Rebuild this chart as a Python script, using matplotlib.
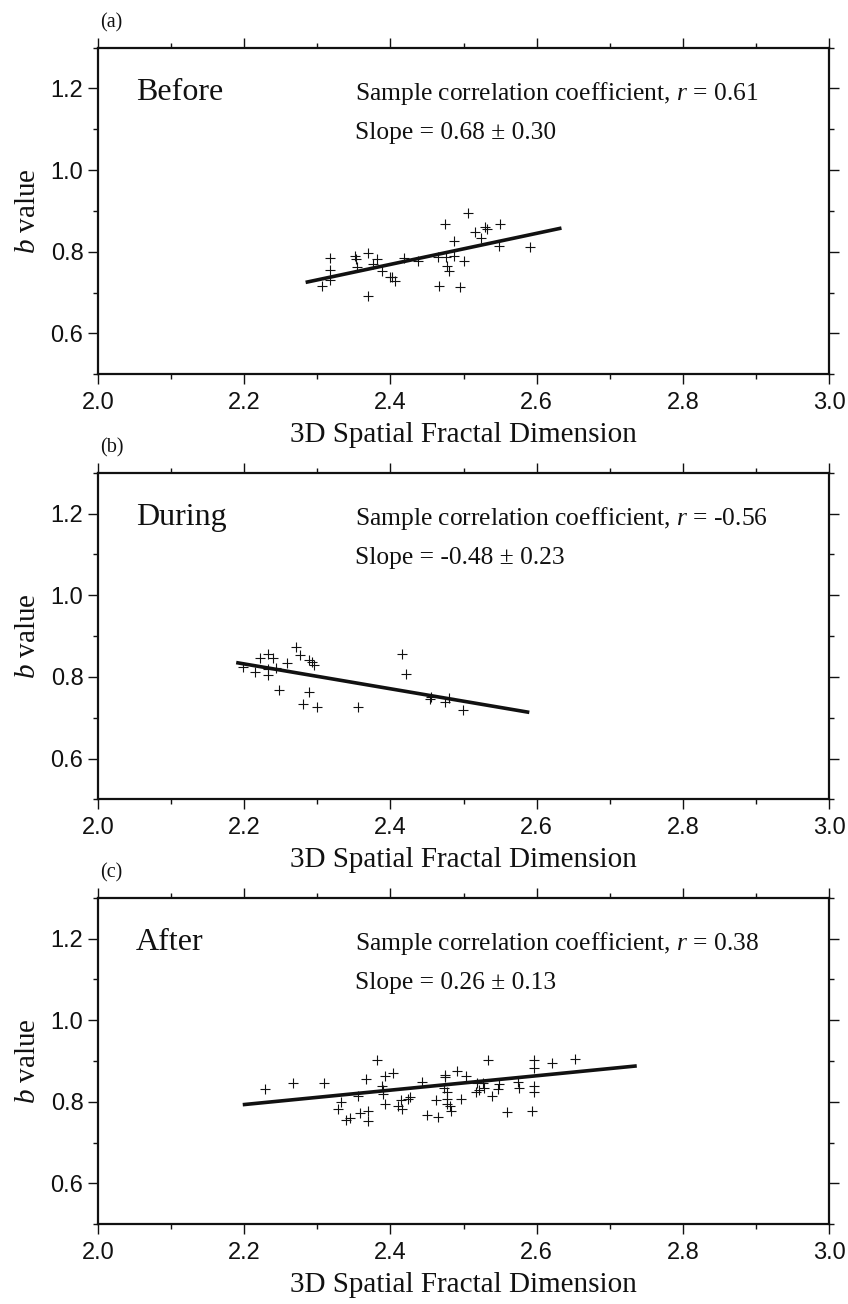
import matplotlib
matplotlib.use('Agg')
import matplotlib.pyplot as plt
from matplotlib.ticker import MultipleLocator

plt.rcParams['mathtext.fontset'] = 'custom'
plt.rcParams['mathtext.rm'] = 'Liberation Serif'
plt.rcParams['mathtext.it'] = 'Liberation Serif:italic'

SERIF = 'Liberation Serif'
SANS = 'Liberation Sans'

# panel (a) before
before_x = [2.306, 2.317, 2.318, 2.318, 2.351, 2.353, 2.354, 2.370, 2.369, 2.382,
            2.376, 2.389, 2.399, 2.402, 2.406, 2.419, 2.438, 2.465, 2.467, 2.474,
            2.476, 2.477, 2.480, 2.487, 2.487, 2.495, 2.501, 2.506, 2.516, 2.524,
            2.530, 2.532, 2.550, 2.548, 2.591]
before_y = [0.717, 0.784, 0.755, 0.731, 0.790, 0.782, 0.762, 0.797, 0.692, 0.782,
            0.770, 0.752, 0.739, 0.737, 0.729, 0.784, 0.778, 0.786, 0.717, 0.869,
            0.786, 0.766, 0.753, 0.827, 0.790, 0.713, 0.778, 0.895, 0.849, 0.833,
            0.861, 0.855, 0.869, 0.815, 0.811]
before_fit_x = [2.284, 2.634]
before_fit_y = [0.725, 0.858]

# panel (b) during
during_x = [2.199, 2.215, 2.221, 2.232, 2.233, 2.233, 2.239, 2.243, 2.248, 2.259,
            2.271, 2.276, 2.289, 2.293, 2.295, 2.289, 2.281, 2.299, 2.356, 2.416,
            2.421, 2.454, 2.456, 2.474, 2.480, 2.499]
during_y = [0.824, 0.812, 0.845, 0.857, 0.820, 0.804, 0.847, 0.822, 0.769, 0.835,
            0.873, 0.853, 0.841, 0.837, 0.829, 0.763, 0.733, 0.725, 0.725, 0.857,
            0.806, 0.745, 0.751, 0.739, 0.749, 0.720]
during_fit_x = [2.189, 2.590]
during_fit_y = [0.835, 0.713]

# panel (c) after
after_x = [2.228, 2.267, 2.309, 2.328, 2.333, 2.339, 2.345, 2.356, 2.359, 2.366,
           2.369, 2.369, 2.381, 2.389, 2.390, 2.390, 2.393, 2.392, 2.403, 2.411,
           2.415, 2.416, 2.424, 2.427, 2.443, 2.450, 2.462, 2.465, 2.475, 2.475,
           2.473, 2.478, 2.478, 2.478, 2.481, 2.483, 2.491, 2.503, 2.497, 2.518,
           2.517, 2.521, 2.526, 2.528, 2.534, 2.539, 2.547, 2.549, 2.559, 2.574,
           2.576, 2.597, 2.597, 2.597, 2.597, 2.594, 2.621, 2.653]
after_y = [0.831, 0.847, 0.847, 0.782, 0.800, 0.756, 0.761, 0.815, 0.772, 0.856,
           0.778, 0.753, 0.903, 0.838, 0.829, 0.819, 0.794, 0.864, 0.870, 0.790,
           0.805, 0.782, 0.808, 0.811, 0.849, 0.767, 0.804, 0.762, 0.865, 0.860,
           0.835, 0.823, 0.808, 0.794, 0.789, 0.778, 0.876, 0.864, 0.807, 0.847,
           0.823, 0.829, 0.847, 0.835, 0.903, 0.815, 0.831, 0.843, 0.776, 0.849,
           0.835, 0.903, 0.882, 0.839, 0.825, 0.778, 0.894, 0.906]
after_fit_x = [2.198, 2.737]
after_fit_y = [0.793, 0.888]

panels = [
    ('(a)', 'Before', 'Sample correlation coefficient, $r$ = 0.61', 'Slope = 0.68 \u00b1 0.30',
     before_x, before_y, before_fit_x, before_fit_y),
    ('(b)', 'During', 'Sample correlation coefficient, $r$ = -0.56', 'Slope = -0.48 \u00b1 0.23',
     during_x, during_y, during_fit_x, during_fit_y),
    ('(c)', 'After', 'Sample correlation coefficient, $r$ = 0.38', 'Slope = 0.26 \u00b1 0.13',
     after_x, after_y, after_fit_x, after_fit_y),
]

fig = plt.figure(figsize=(8.48, 13.04), dpi=100)
bottoms = [0.7130, 0.3870, 0.0611]
ink = '#111111'

for (tag, name, rtext, stext, xs, ys, fx, fy), b in zip(panels, bottoms):
    ax = fig.add_axes([0.1156, b, 0.862, 0.2505])
    ax.plot(xs, ys, '+', color=ink, markersize=7, markeredgewidth=0.8)
    ax.plot(fx, fy, '-', color=ink, linewidth=2.6, solid_capstyle='butt')

    ax.set_xlim(2.0, 3.0)
    ax.set_ylim(0.5, 1.3)
    ax.xaxis.set_major_locator(MultipleLocator(0.2))
    ax.xaxis.set_minor_locator(MultipleLocator(0.1))
    ax.yaxis.set_major_locator(MultipleLocator(0.2))
    ax.yaxis.set_minor_locator(MultipleLocator(0.1))
    ax.xaxis.set_major_formatter(plt.FuncFormatter(lambda v, p: f'{v:.1f}'))
    ax.yaxis.set_major_formatter(plt.FuncFormatter(lambda v, p: f'{v:.1f}'))
    ax.tick_params(which='both', direction='out', top=True, right=True,
                   color=ink, width=1.0)
    ax.tick_params(which='major', length=7, labelsize=17, labelcolor=ink)
    ax.tick_params(which='minor', length=3.5)
    ax.tick_params(axis='x', which='major', pad=5.5)
    ax.tick_params(axis='y', which='major', pad=3.5)
    for lab in ax.get_xticklabels() + ax.get_yticklabels():
        lab.set_fontfamily(SANS)
    for sp in ax.spines.values():
        sp.set_linewidth(1.6)
        sp.set_color(ink)

    ax.set_xlabel('3D Spatial Fractal Dimension', fontfamily=SERIF, fontsize=21, color=ink)
    ax.xaxis.set_label_coords(0.5, -0.145)
    ax.set_ylabel('$b$ value', fontfamily=SERIF, fontsize=21, color=ink)
    ax.yaxis.set_label_coords(-0.078, 0.5)

    ax.text(0.052, 0.841, name, transform=ax.transAxes, fontfamily=SERIF,
            fontsize=23, va='baseline', ha='left', color=ink)
    ax.text(0.352, 0.839, rtext, transform=ax.transAxes, fontfamily=SERIF,
            fontsize=18.4, va='baseline', ha='left', color=ink)
    ax.text(0.352, 0.721, stext, transform=ax.transAxes, fontfamily=SERIF,
            fontsize=18.4, va='baseline', ha='left', color=ink)
    ax.text(0.003, 1.075, tag, transform=ax.transAxes, fontfamily=SERIF,
            fontsize=14.5, va='center', ha='left', color=ink)

fig.savefig('out.png', dpi=100, facecolor='white')
